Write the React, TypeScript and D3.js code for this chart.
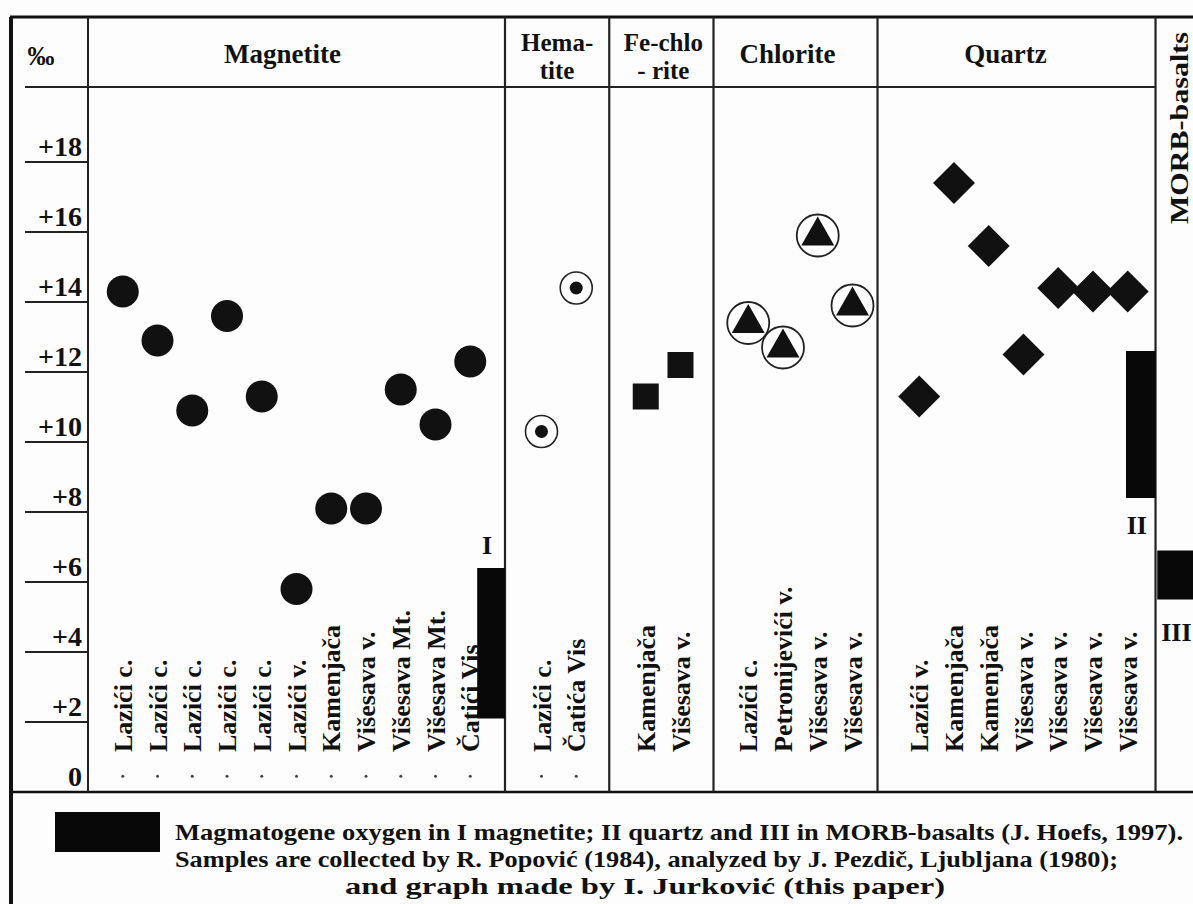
import React, { useEffect, useRef } from "react";
import * as d3 from "d3";

// delta 18O (‰) values
const yTicks = [0, 2, 4, 6, 8, 10, 12, 14, 16, 18];

const magnetiteSamples = ["Lazići c.", "Lazići c.", "Lazići c.", "Lazići c.", "Lazići c.", "Lazići v.", "Kamenjača", "Višesava v.", "Višesava Mt.", "Višesava Mt.", "Čatići Vis"];
const magnetiteValues = [14.3, 12.9, 10.9, 13.6, 11.3, 5.8, 8.1, 8.1, 11.5, 10.5, 12.3];

const hematiteSamples = ["Lazići c.", "Čatića Vis"];
const hematiteValues = [10.3, 14.4];

const feChloriteSamples = ["Kamenjača", "Višesava v."];
const feChloriteValues = [11.3, 12.2];

const chloriteSamples = ["Lazići c.", "Petronijevići v.", "Višesava v.", "Višesava v."];
const chloriteValues = [13.4, 12.7, 15.9, 13.9];

const quartzSamples = ["Lazići v.", "Kamenjača", "Kamenjača", "Višesava v.", "Višesava v.", "Višesava v.", "Višesava v."];
const quartzValues = [11.3, 17.4, 15.6, 12.5, 14.4, 14.3, 14.3];

// magmatogene ranges (I magnetite, II quartz, III MORB-basalts)
const rangeLabels = ["I", "II", "III"];
const rangeLow = [2.1, 8.4, 5.5];
const rangeHigh = [6.4, 12.6, 6.9];

const legendLines = [
  "Magmatogene oxygen in I magnetite; II quartz and III in MORB-basalts (J. Hoefs, 1997).",
  "Samples are collected by R. Popović (1984), analyzed by J. Pezdič, Ljubljana (1980);",
  "and graph made by I. Jurković (this paper)",
];

const FONT = "Liberation Serif, Times New Roman, DejaVu Serif, serif";
const INK = "#111";

type Section = {
  title: string[];
  samples: string[];
  values: number[];
  marker: string;
  span: number;
  pad: number;
  titleDx: number;
};

function App() {
  const ref = useRef<SVGSVGElement | null>(null);

  useEffect(() => {
    document.body.style.margin = "0";
    const W = 1193, H = 904;
    const svg = d3.select(ref.current);
    svg.selectAll("*").remove();

    const sections: Section[] = [
      { title: ["Magnetite"], samples: magnetiteSamples, values: magnetiteValues, marker: "dot", span: 12, pad: 1, titleDx: -14 },
      { title: ["Hema-", "tite"], samples: hematiteSamples, values: hematiteValues, marker: "ring", span: 3, pad: 1.05, titleDx: 0 },
      { title: ["Fe-chlo", "- rite"], samples: feChloriteSamples, values: feChloriteValues, marker: "square", span: 3, pad: 1.05, titleDx: 2 },
      { title: ["Chlorite"], samples: chloriteSamples, values: chloriteValues, marker: "triangle", span: 4.72, pad: 1, titleDx: -8 },
      { title: ["Quartz"], samples: quartzSamples, values: quartzValues, marker: "diamond", span: 8, pad: 1.2, titleDx: -11 },
      { title: [], samples: [], values: [], marker: "", span: 1.6, pad: 0, titleDx: 0 },
    ];

    const axisX = 88, unit = 34.75;
    const frameTop = 17, headerBottom = 87;
    const total = d3.sum(sections, (s) => s.span);
    const x = d3.scaleLinear().domain([0, total]).range([axisX, axisX + total * unit]);
    const y = d3.scaleLinear().domain([0, 18]).range([792, 162]);

    let acc = 0;
    const starts = sections.map((s) => { const v = acc; acc += s.span; return v; });

    svg.append("rect").attr("width", W).attr("height", H).attr("fill", "#fdfdfd");

    const g = svg.append("g").attr("font-family", FONT).attr("font-weight", "bold").attr("fill", INK);

    // frame
    g.append("line").attr("x1", 10).attr("x2", W).attr("y1", frameTop).attr("y2", frameTop)
      .attr("stroke", INK).attr("stroke-width", 3);
    g.append("line").attr("x1", 11).attr("x2", 11).attr("y1", frameTop).attr("y2", H)
      .attr("stroke", INK).attr("stroke-width", 4);
    g.append("line").attr("x1", 10).attr("x2", W).attr("y1", y(0)).attr("y2", y(0))
      .attr("stroke", INK).attr("stroke-width", 2.5);
    g.append("line").attr("x1", 25).attr("x2", x(starts[5])).attr("y1", headerBottom).attr("y2", headerBottom)
      .attr("stroke", "#222").attr("stroke-width", 2.2);

    // axis
    g.append("line").attr("x1", axisX).attr("x2", axisX).attr("y1", frameTop).attr("y2", y(0))
      .attr("stroke", "#222").attr("stroke-width", 2);
    const ticks = g.append("g");
    ticks.selectAll("line").data(yTicks.filter((d) => d > 0)).join("line")
      .attr("x1", 25).attr("x2", axisX).attr("y1", (d) => y(d)).attr("y2", (d) => y(d))
      .attr("stroke", "#222").attr("stroke-width", 2);
    ticks.selectAll("text").data(yTicks).join("text")
      .attr("x", 82).attr("y", (d) => y(d) - 6).attr("text-anchor", "end")
      .attr("font-size", 28).text((d) => (d > 0 ? `+${d}` : "0"));
    g.append("text").attr("x", 41).attr("y", 65).attr("text-anchor", "middle")
      .attr("font-size", 27).text("‰");

    // section dividers and titles
    sections.forEach((s, i) => {
      const left = x(starts[i]);
      const right = x(starts[i] + s.span);
      if (i > 0) {
        g.append("line").attr("x1", left).attr("x2", left).attr("y1", frameTop).attr("y2", y(0))
          .attr("stroke", "#222").attr("stroke-width", 2.2);
      }
      const cx = (left + right) / 2 + s.titleDx;
      const twoLine = s.title.length > 1;
      s.title.forEach((t, k) => {
        g.append("text").attr("x", cx).attr("y", (twoLine ? 51 : 63) + k * 28).attr("text-anchor", "middle")
          .attr("font-size", twoLine ? 25 : 27).text(t);
      });
    });

    // MORB column title
    const morbX = x(starts[5]) + 24;
    g.append("text").attr("transform", `translate(${morbX},128) rotate(-90)`)
      .attr("text-anchor", "middle").attr("dy", "0.35em").attr("font-size", 25)
      .attr("textLength", 192).attr("lengthAdjust", "spacingAndGlyphs").text("MORB-basalts");

    // samples
    sections.forEach((s, i) => {
      const sx = (k: number) => x(starts[i] + s.pad + k);
      const layer = g.append("g");

      layer.selectAll("text.lbl").data(s.samples).join("text").attr("class", "lbl")
        .attr("transform", (_d, k) => `translate(${sx(k)},752) rotate(-90)`)
        .attr("dy", "0.35em").attr("font-size", 26).text((d) => d);

      if (i < 2) {
        layer.selectAll("circle.tick").data(s.samples).join("circle").attr("class", "tick")
          .attr("cx", (_d, k) => sx(k)).attr("cy", y(0.45)).attr("r", 1.5).attr("fill", "#444");
      }

      const pts = layer.selectAll("g.pt").data(s.values).join("g").attr("class", "pt")
        .attr("transform", (d, k) => `translate(${sx(k)},${y(d)})`);

      if (s.marker === "dot") {
        pts.append("circle").attr("r", 16).attr("fill", INK);
      } else if (s.marker === "ring") {
        pts.append("circle").attr("r", 16).attr("fill", "none").attr("stroke", "#222").attr("stroke-width", 1.6);
        pts.append("circle").attr("r", 6.5).attr("fill", INK);
      } else if (s.marker === "square") {
        pts.append("rect").attr("x", -13).attr("y", -13).attr("width", 26).attr("height", 26).attr("fill", INK);
      } else if (s.marker === "triangle") {
        pts.append("circle").attr("r", 21).attr("fill", "#fff").attr("stroke", "#222").attr("stroke-width", 1.8);
        pts.append("path").attr("d", "M0,-19L16.5,10L-16.5,10Z").attr("fill", INK);
      } else if (s.marker === "diamond") {
        pts.append("path").attr("d", d3.symbol().type(d3.symbolSquare).size(880)()!)
          .attr("transform", "rotate(45)").attr("fill", INK);
      }
    });

    // magmatogene range bars
    const bars = [
      { sec: 0, from: 11.2, to: 12, below: false },
      { sec: 4, from: 7.15, to: 8, below: true },
      { sec: 5, from: 0.05, to: 1.6, below: true },
    ];
    bars.forEach((b, k) => {
      const x0 = x(starts[b.sec] + b.from);
      const x1 = x(starts[b.sec] + b.to);
      g.append("rect").attr("x", x0).attr("width", x1 - x0)
        .attr("y", y(rangeHigh[k])).attr("height", y(rangeLow[k]) - y(rangeHigh[k])).attr("fill", "#080808");
      const lx = k === 2 ? x0 + 4 : (x0 + x1) / 2 - 4;
      g.append("text").attr("x", lx).attr("text-anchor", k === 2 ? "start" : "middle")
        .attr("y", b.below ? y(rangeLow[k]) + (k === 2 ? 41 : 36) : y(rangeHigh[k]) - 14)
        .attr("font-size", 26).text(rangeLabels[k]);
    });

    // legend
    const legendWidths = [1008, 943, 600];
    g.append("rect").attr("x", 55).attr("y", 812).attr("width", 105).attr("height", 40).attr("fill", "#080808");
    g.selectAll("text.leg").data(legendLines).join("text").attr("class", "leg")
      .attr("x", (_d, k) => (k < 2 ? 175 : 345))
      .attr("y", (_d, k) => 840 + k * 27)
      .attr("textLength", (_d, k) => legendWidths[k]).attr("lengthAdjust", "spacingAndGlyphs")
      .attr("font-size", 24).text((d) => d);
  }, []);

  return <svg ref={ref} width={1193} height={904} style={{ display: "block" }} />;
}

export default App;
